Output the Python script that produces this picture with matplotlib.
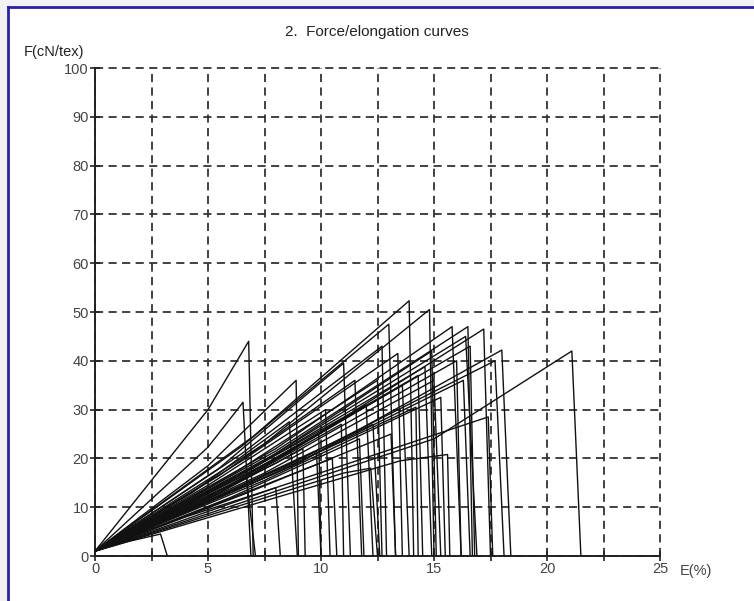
import matplotlib
matplotlib.use("Agg")
import matplotlib.pyplot as plt
from matplotlib.lines import Line2D
from matplotlib.patches import Rectangle

plt.rcParams['font.family'] = ['Liberation Sans', 'DejaVu Sans']

# one entry per specimen: start force, knee point, peak (break) point, end of drop
start_f = [1.0] * 45
knee_e = [1.5, 5.0, 5.0, 3.0, 4.0, 5.0, 4.3, 4.5, 5.0, 5.0, 5.0, 5.5, 5.5, 11.0, 6.5,
          6.5, 6.5, 7.0, 7.0, 7.0, 7.5, 7.5, 13.5, 8.0, 8.0, 8.0, 8.5, 9.0, 8.5, 15.0,
          8.0, 6.0, 6.0, 7.0, 7.5, 7.5, 8.0, 8.0, 8.0, 5.5, 6.0, 5.0, 6.5, 7.0, 6.0]
knee_f = [3.0, 30.0, 22.3, 8.0, 8.0, 18.5, 13.0, 10.5, 12.0, 14.5, 10.0, 18.0, 16.5, 17.0, 21.0,
          22.5, 19.5, 24.5, 15.0, 18.0, 23.0, 15.5, 19.5, 22.0, 21.5, 21.0, 21.0, 19.0, 18.5, 24.0,
          14.0, 13.5, 15.5, 17.0, 19.5, 17.0, 19.0, 17.0, 20.0, 13.0, 12.0, 11.0, 12.5, 17.5, 16.5]
peak_e = [2.9, 6.8, 6.55, 6.7, 8.0, 8.9, 8.6, 9.2, 9.9, 10.2, 10.5, 11.0, 11.5, 12.2, 12.7,
          13.0, 13.4, 13.9, 14.2, 14.6, 14.8, 15.3, 15.6, 15.8, 16.5, 16.4, 17.2, 18.0, 17.7, 21.1,
          17.4, 12.3, 12.0, 13.6, 14.9, 15.0, 16.0, 16.3, 16.6, 10.9, 11.7, 9.8, 13.1, 14.3, 12.5]
peak_f = [4.5, 44.0, 31.5, 16.0, 14.0, 36.0, 27.5, 22.0, 25.0, 30.0, 20.0, 39.5, 36.0, 18.0, 43.0,
          47.5, 41.5, 52.3, 30.5, 38.8, 50.5, 32.5, 20.8, 47.0, 47.0, 45.0, 46.5, 42.2, 40.0, 42.0,
          28.5, 27.0, 31.0, 35.0, 42.0, 36.0, 40.0, 36.0, 43.0, 27.0, 24.0, 21.5, 25.0, 37.0, 36.0]
break_e = [3.2, 7.0, 6.9, 7.1, 8.2, 9.0, 8.95, 9.3, 10.0, 10.4, 10.7, 11.3, 11.8, 12.5, 12.9,
           13.3, 13.6, 14.1, 14.3, 14.9, 15.0, 15.5, 15.7, 16.2, 16.7, 16.9, 17.5, 18.4, 18.1, 21.5,
           17.6, 12.6, 12.3, 13.9, 15.1, 15.3, 16.2, 16.6, 16.8, 11.0, 11.9, 10.0, 13.3, 14.5, 12.7]

x_ticks = [0, 2.5, 5, 7.5, 10, 12.5, 15, 17.5, 20, 22.5, 25]
x_labels = ['0', '', '5', '', '10', '', '15', '', '20', '', '25']
y_ticks = [0, 10, 20, 30, 40, 50, 60, 70, 80, 90, 100]

fig = plt.figure(figsize=(7.54, 6.01), dpi=100)
ax = fig.add_axes([95 / 754, 1 - 556 / 601, 565 / 754, 488 / 601])

for i in range(len(peak_e)):
    xs = [0, knee_e[i], peak_e[i], break_e[i]]
    ys = [start_f[i], knee_f[i], peak_f[i], 0]
    ax.plot(xs, ys, color='#111111', lw=1.0, zorder=3)

ax.set_xlim(0, 25)
ax.set_ylim(0, 100)
ax.set_xticks(x_ticks)
ax.set_xticklabels(x_labels)
ax.set_yticks(y_ticks)
ax.grid(True, color='#333333', lw=1.3, linestyle=(0, (4.5, 3)))
for gl in ax.get_xgridlines() + ax.get_ygridlines():
    gl.set_clip_on(False)
for s in ['top', 'right']:
    ax.spines[s].set_visible(False)
for s in ['left', 'bottom']:
    ax.spines[s].set_color('#222222')
    ax.spines[s].set_linewidth(1.4)
ax.tick_params(direction='inout', length=7, width=1.2, color='#222222',
               labelsize=10.5, labelcolor='#444444', pad=1)
ax.set_axisbelow(True)

fig.text(377 / 754, 1 - 32 / 601, '2.  Force/elongation curves', ha='center', va='center',
         fontsize=11, color='#222222')
fig.text(24 / 754, 1 - 52 / 601, 'F(cN/tex)', ha='left', va='center', fontsize=10.5, color='#222222')
fig.text(680 / 754, 1 - 571 / 601, 'E(%)', ha='left', va='center', fontsize=10.5, color='#444444')

# page frame of the screenshot
fig.add_artist(Rectangle((0, 1 - 7 / 601), 1, 7 / 601, transform=fig.transFigure,
                         color='#f2f2f2', zorder=0))
fig.add_artist(Rectangle((0, 0), 8 / 754, 1, transform=fig.transFigure,
                         color='#f2f2f2', zorder=0))
fig.add_artist(Line2D([8 / 754, 1], [1 - 7 / 601, 1 - 7 / 601], transform=fig.transFigure,
                      color='#2a1fa8', lw=2))
fig.add_artist(Line2D([8 / 754, 8 / 754], [0, 1 - 7 / 601], transform=fig.transFigure,
                      color='#2a1fa8', lw=2))

fig.savefig('out.png', dpi=100)
